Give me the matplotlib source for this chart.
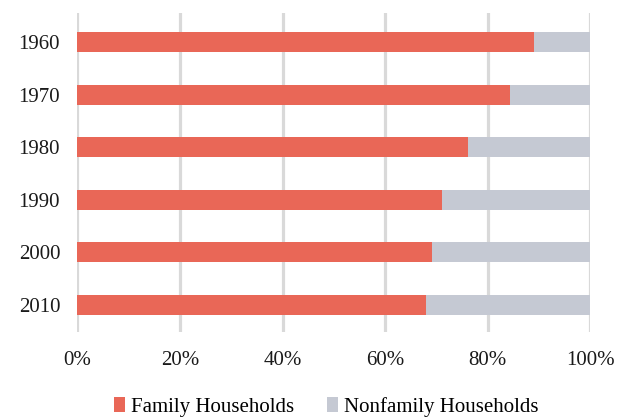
import matplotlib.pyplot as plt
from matplotlib.patches import Patch
from matplotlib.ticker import FuncFormatter

# Share of households by type, per census year
years = ["1960", "1970", "1980", "1990", "2000", "2010"]
family = [89.0, 84.3, 76.1, 71.0, 69.1, 67.9]
nonfamily = [100 - f for f in family]

series_names = ["Family Households", "Nonfamily Households"]
colors = ["#E96757", "#C5C9D3"]

plt.rcParams["font.family"] = ["Liberation Serif", "DejaVu Serif"]
plt.rcParams["font.size"] = 15

fig = plt.figure(figsize=(6.18, 4.17), dpi=100)
ax = fig.add_axes([0.1254, 0.2038, 0.830, 0.7657])

pos = list(range(len(years)))
ax.barh(pos, family, height=0.38, color=colors[0], zorder=3)
ax.barh(pos, nonfamily, left=family, height=0.38, color=colors[1], zorder=3)

# vertical gridlines behind the bars
for x in range(0, 101, 20):
    ax.axvline(x, color="#D9D9D9", linewidth=2.3, zorder=1)

ax.set_xlim(0, 100)
ax.set_ylim(5.513, -0.557)
ax.set_yticks(pos)
ax.set_yticklabels(years)
ax.set_xticks(range(0, 101, 20))
ax.xaxis.set_major_formatter(FuncFormatter(lambda v, _: f"{v:.0f}%"))
ax.tick_params(axis="both", length=0, colors="#1a1a1a")
ax.tick_params(axis="x", pad=14)
ax.tick_params(axis="y", pad=12.5)
for s in ax.spines.values():
    s.set_visible(False)

handles = [Patch(facecolor=c, edgecolor="none") for c in colors]
fig.legend(handles, series_names, loc="center", bbox_to_anchor=(0.5275, 0.024),
           ncol=2, frameon=False, handlelength=0.55, handleheight=0.75,
           handletextpad=0.25, columnspacing=1.6, fontsize=15)

fig.savefig("out.png", dpi=100)
